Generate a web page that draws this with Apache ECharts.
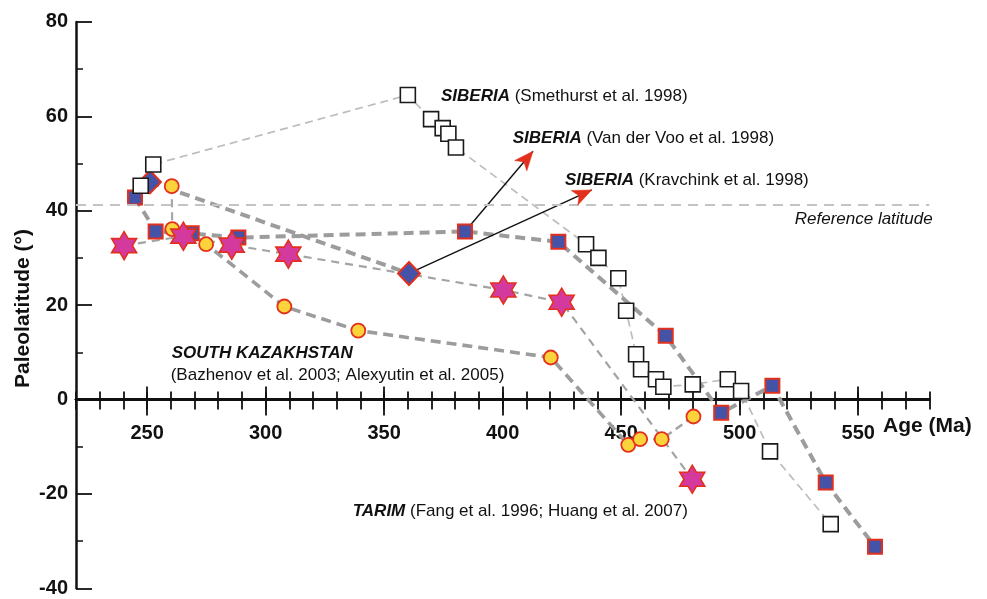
<!DOCTYPE html>
<html><head><meta charset="utf-8">
<script src="https://cdn.jsdelivr.net/npm/echarts@6/dist/echarts.min.js"></script>
<style>html,body{margin:0;padding:0;background:#fff}#c{width:987px;height:599px}</style>
</head><body><div id="c"></div>
<script>
// ---------------- data (Age Ma, Paleolatitude deg) ----------------
const smethurst = [[247.3,45.3],[252.6,49.8],[360.0,64.5],[369.8,59.4],[374.7,57.5],[377.1,56.3],[380.3,53.4],
  [435.2,32.9],[440.4,30.0],[448.8,25.7],[452.1,18.8],[456.3,9.6],[458.4,6.4],[464.7,4.3],[467.8,2.7],
  [480.2,3.2],[495.0,4.3],[500.6,1.8],[512.8,-11.0],[538.4,-26.4]];
const vanDerVoo = [[244.9,42.8],[253.6,35.6],[268.8,35.2],[288.5,34.3],[384.1,35.6],[423.5,33.4],
  [468.8,13.5],[492.2,-2.8],[513.8,2.9],[536.3,-17.6],[557.1,-31.2]];
const kravchinsky = [[251.2,46.1],[360.5,26.7]];
const southKazakhstan = [[260.4,45.2],[260.6,36.1],[274.9,32.9],[307.9,19.7],[339.1,14.6],[420.3,8.9],
  [453.0,-9.6],[458.0,-8.4],[467.1,-8.4],[480.5,-3.6]];
const tarim = [[240.3,32.6],[265.3,34.6],[285.7,32.7],[309.6,30.8],[400.3,23.2],[424.9,20.6],[480.0,-16.9]];
const arrowVanDerVoo = [[384.1,35.6],[412.8,52.6]];
const arrowKravchinsky = [[360.5,26.7],[437.6,44.4]];
const referenceLatitude = 41.3;
const majorXTicks = [250,300,350,400,450,500,550];
const xRange = [220,580];
const yTicks = {min:-40, max:80, step:20};

// ---------------- styles ----------------
const FONT = '"Liberation Sans", Arial, Helvetica, sans-serif';
const INK = '#111';
const RED = '#e2301d';
const hexagram = 'path://M0,-10L2.887,-5L8.66,-5L5.774,0L8.66,5L2.887,5L0,10L-2.887,5L-8.66,5L-5.774,0L-8.66,-5L-2.887,-5Z';

const chart = echarts.init(document.getElementById('c'), null, {renderer:'canvas'});

const tickStyle = {color: INK, width: 1.8};
// grid 0 = data area (-40..80); grid 1 = upper half (0..80) whose bottom edge carries the age axis at latitude 0
const PLOT = {left:76, right:57.7, top:21.9};
const PX_PER_DEG = 4.72;
function xAxisDef(extra){
  return Object.assign({
    type:'value', gridIndex:1, min:xRange[0], max:xRange[1], interval:10, position:'bottom',
    splitLine:{show:false}, axisLine:{show:true, onZero:false, lineStyle:{color:INK, width:2.5}}, axisLabel:{show:false}
  }, extra);
}

function lineSeries(data, color, width, dash, z){
  return {type:'line', data:data, showSymbol:false, symbol:'none', silent:true, animation:false,
    lineStyle:{color:color, width:width, type:dash}, z:z||2};
}
function scatterSeries(data, symbol, size, fill, border, bw, z){
  return {type:'scatter', data:data, symbol:symbol, symbolSize:size, silent:true, animation:false,
    itemStyle:{color:fill, borderColor:border, borderWidth:bw, opacity:1}, z:z};
}

const option = {
  animation:false,
  backgroundColor:'#fff',
  grid:[
    {left:PLOT.left, right:PLOT.right, top:PLOT.top, height:(yTicks.max-yTicks.min)*PX_PER_DEG, outerBoundsMode:'none', containLabel:false},
    {left:PLOT.left, right:PLOT.right, top:PLOT.top, height:yTicks.max*PX_PER_DEG, outerBoundsMode:'none', containLabel:false}
  ],
  xAxis:[
    {type:'value', gridIndex:0, min:xRange[0], max:xRange[1], show:false},
    xAxisDef({axisTick:{show:true, inside:false, length:10, lineStyle:tickStyle}}),
    xAxisDef({axisTick:{show:true, inside:true, length:8, lineStyle:tickStyle}}),
    xAxisDef({axisTick:{show:true, inside:false, length:16, customValues:majorXTicks, lineStyle:tickStyle},
      axisLabel:{show:true, customValues:majorXTicks, margin:24, fontSize:20, fontWeight:'bold', color:INK, fontFamily:FONT}}),
    xAxisDef({axisTick:{show:true, inside:true, length:13, customValues:majorXTicks, lineStyle:tickStyle}})
  ],
  yAxis:[
    {type:'value', gridIndex:0, min:yTicks.min, max:yTicks.max, interval:yTicks.step,
      axisLine:{show:true, onZero:false, lineStyle:{color:INK, width:2.5}},
      axisTick:{show:true, inside:true, length:16, lineStyle:tickStyle},
      minorTick:{show:true, splitNumber:2, length:7, lineStyle:{color:INK, width:1.5}},
      splitLine:{show:false},
      axisLabel:{margin:8, fontSize:20, fontWeight:'bold', color:INK, fontFamily:FONT}},
    {type:'value', gridIndex:1, min:0, max:yTicks.max, show:false}
  ],
  series:[
    {type:'line', data:[], silent:true, z:1,
      markLine:{silent:true, symbol:'none', animation:false, label:{show:false},
        lineStyle:{color:'#c4c4c4', width:2, type:[10,7]}, data:[{yAxis:referenceLatitude}]}},
    lineSeries(smethurst, '#bdbdbd', 1.7, [8,5], 2),
    lineSeries(vanDerVoo, '#9c9c9c', 4, [10,6], 2),
    lineSeries(kravchinsky, '#9c9c9c', 4, [10,6], 2),
    lineSeries(southKazakhstan.slice(0,2), '#a6a6a6', 2.2, [8,5], 2),
    lineSeries(southKazakhstan.slice(1,7), '#9c9c9c', 3.6, [10,6], 2),
    lineSeries(southKazakhstan.slice(6), '#a6a6a6', 2.6, [8,5], 2),
    lineSeries(tarim, '#a3a3a3', 2.2, [8,6], 2),
    lineSeries(arrowVanDerVoo, INK, 1.4, 'solid', 3),
    lineSeries(arrowKravchinsky, INK, 1.4, 'solid', 3),
    scatterSeries(vanDerVoo, 'rect', 14, '#4453a8', RED, 2, 4),
    scatterSeries(kravchinsky, 'diamond', [22,23], '#4453a8', RED, 2, 5),
    scatterSeries(southKazakhstan, 'circle', 14, '#fdd33c', RED, 1.8, 6),
    scatterSeries(tarim, hexagram, [25,28], '#d4399d', RED, 1.6, 7),
    scatterSeries(smethurst, 'rect', 15, '#ffffff', '#1a1a1a', 1.6, 8)
  ]
};
chart.setOption(option);

// ---------------- annotations ----------------
function label(x, y, bold, normal, align){
  return {type:'text', z:20, silent:true, style:{
    x:x, y:y, align:align||'left', verticalAlign:'middle',
    text:(bold ? '{b|' + bold + '}' : '') + (normal ? '{n|' + normal + '}' : ''),
    rich:{b:{font:'italic bold 17px ' + FONT, fill:INK}, n:{font:'17px ' + FONT, fill:INK}}
  }};
}
const graphics = [
  label(441, 96, 'SIBERIA', ' (Smethurst et al. 1998)'),
  label(512.7, 138.3, 'SIBERIA', ' (Van der Voo et al. 1998)'),
  label(565, 180, 'SIBERIA', ' (Kravchink et al. 1998)'),
  {type:'text', z:20, silent:true, style:{x:932.7, y:219.3, align:'right', verticalAlign:'middle',
    text:'Reference latitude', font:'italic 17px ' + FONT, fill:INK}},
  label(171.7, 353.3, 'SOUTH KAZAKHSTAN', ''),
  label(170.7, 375, '', '(Bazhenov et al. 2003; Alexyutin et al. 2005)'),
  label(352.7, 511.7, 'TARIM', ' (Fang et al. 1996; Huang et al. 2007)'),
  {type:'text', z:20, silent:true, style:{x:883, y:426, align:'left', verticalAlign:'middle',
    text:'Age (Ma)', font:'bold 21px ' + FONT, fill:INK}},
  {type:'text', z:20, silent:true, x:23, y:308.5, rotation:Math.PI/2, style:{x:0, y:0, align:'center', verticalAlign:'middle',
    text:'Paleolatitude (°)', font:'bold 21px ' + FONT, fill:INK}}
];
[arrowVanDerVoo, arrowKravchinsky].forEach(function(a){
  const p0 = chart.convertToPixel({xAxisIndex:0, yAxisIndex:0}, a[0]);
  const p1 = chart.convertToPixel({xAxisIndex:0, yAxisIndex:0}, a[1]);
  const dx = p1[0]-p0[0], dy = p1[1]-p0[1], len = Math.sqrt(dx*dx+dy*dy);
  const ux = dx/len, uy = dy/len, nx = -uy, ny = ux;
  const L = 19, W = 8, N = 5;
  graphics.push({type:'polygon', z:21, silent:true, shape:{points:[
    [p1[0], p1[1]],
    [p1[0]-L*ux+W*nx, p1[1]-L*uy+W*ny],
    [p1[0]-(L-N)*ux, p1[1]-(L-N)*uy],
    [p1[0]-L*ux-W*nx, p1[1]-L*uy-W*ny]
  ]}, style:{fill:RED, stroke:RED, lineWidth:0.5}});
});
chart.setOption({graphic:graphics});
</script>
</body></html>
